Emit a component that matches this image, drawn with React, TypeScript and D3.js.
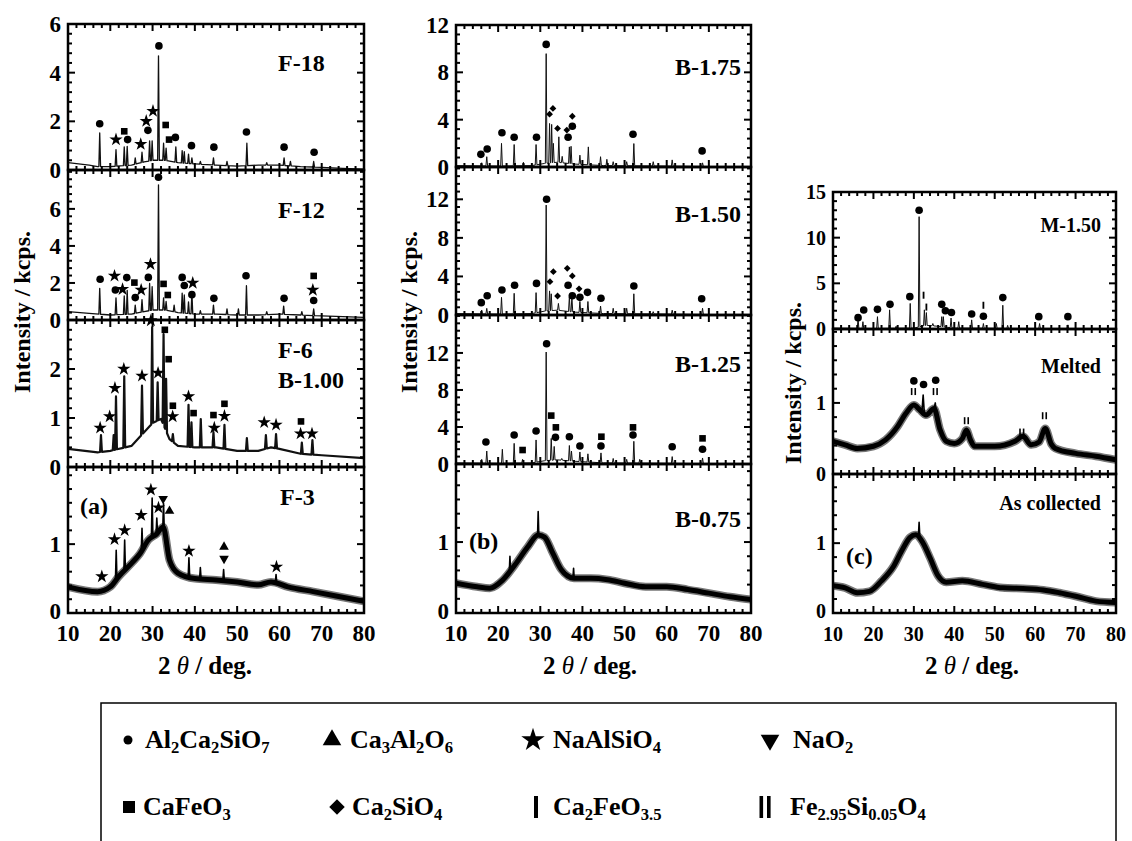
import React from 'react';
import * as d3 from 'd3';

const FONT = '"Liberation Serif", "Times New Roman", Times, serif';

// ---------- axis ticks ----------
const xTicks = [10, 20, 30, 40, 50, 60, 70, 80];
const f18Ticks = [0, 2, 4, 6];
const f12Ticks = [0, 2, 4, 6];
const f6Ticks = [0, 1, 2];
const f3Ticks = [0, 1];
const bTicks = [0, 4, 8, 12];
const b075Ticks = [0, 1];
const m150Ticks = [0, 5, 10, 15];
const meltedTicks = [0, 1];
const asColTicks = [0, 1];

// ---------- F-18 ----------
const f18Bg = [[10,0.3],[15,0.2],[17,0.14],[20,0.14],[25,0.2],[28,0.33],[30,0.4],[33,0.4],[36,0.3],[40,0.25],[45,0.2],[50,0.16],[55,0.2],[60,0.2],[65,0.14],[70,0.11],[75,0.07],[80,0.03]];
const f18Peaks = [[17.5,1.52],[21.35,0.84],[23.3,0.95],[24.0,0.97],[25.9,0.5],[27.5,0.73],[29.3,1.2],[29.9,1.2],[31.4,4.69],[32.6,1.1],[33.2,0.9],[35.5,0.95],[37.0,0.8],[37.5,0.75],[38.5,0.65],[39.3,0.5],[41.3,0.35],[44.4,0.5],[47.6,0.35],[52.3,1.1],[57,0.3],[61.1,0.5],[62.6,0.35],[68.1,0.35]];
const f18Marks = [['c',17.5,1.9],['s',21.35,1.25],['q',23.3,1.59],['c',24.1,1.25],['s',27.2,1.06],['c',28.9,1.63],['s',28.5,2.01],['s',30.1,2.42],['c',31.5,5.1],['q',33.1,1.85],['q',33.9,1.25],['c',35.4,1.34],['c',39.2,1.0],['c',44.5,0.94],['c',52.2,1.56],['c',61.1,0.94],['c',68.2,0.73]];

// ---------- F-12 ----------
const f12Bg = [[10,0.45],[15,0.36],[20,0.27],[25,0.32],[28,0.45],[30,0.54],[33,0.54],[36,0.4],[40,0.32],[45,0.32],[50,0.27],[55,0.27],[60,0.32],[65,0.27],[70,0.22],[75,0.18],[80,0.14]];
const f12Peaks = [[17.5,1.71],[21.35,1.2],[23.3,1.3],[24.0,1.6],[25.9,0.8],[27.5,1.1],[29.3,1.97],[29.9,1.8],[31.4,7.3],[32.6,1.2],[33.2,1.0],[35.1,0.8],[37.0,1.45],[37.5,1.35],[38.5,0.98],[39.3,1.5],[41.3,0.5],[44.4,0.8],[47.6,0.6],[50.3,0.6],[52.2,1.85],[57,0.45],[61.0,0.75],[65.3,0.45],[68.1,0.6]];
const f12Marks = [['c',17.6,2.2],['s',21.0,2.38],['c',21.2,1.62],['c',23.9,2.29],['s',22.9,1.66],['q',25.7,2.02],['c',25.9,1.21],['s',27.3,1.62],['c',29.0,2.3],['s',29.5,3.01],['c',31.4,7.71],['q',32.6,1.95],['q',33.6,1.35],['c',37.0,2.3],['c',37.5,1.86],['s',39.5,2.0],['c',39.3,1.37],['c',44.5,1.17],['c',52.1,2.39],['c',61.1,1.17],['q',68.1,2.38],['s',67.9,1.62],['c',68.1,1.05]];

// ---------- F-6 / B-1.00 ----------
const f6Bg = [[10,0.37],[17,0.3],[20,0.33],[25,0.43],[28,0.71],[30,0.9],[32,0.98],[34,0.57],[36,0.43],[40,0.4],[45,0.4],[50,0.33],[55,0.33],[58,0.4],[60,0.37],[65,0.27],[70,0.24],[80,0.18]];
const f6Peaks = [[17.8,0.65],[20.8,0.65],[21.35,1.44],[23.3,1.85],[27.5,1.66],[29.9,2.85],[31.2,1.73],[32.6,2.71],[33.2,1.8],[34.8,0.67],[38.5,1.27],[39.2,0.91],[41.4,0.98],[44.4,0.71],[47.0,0.86],[52.3,0.59],[56.8,0.65],[59.2,0.67],[65.3,0.5],[67.8,0.55]];
const f6Marks = [['s',17.6,0.8],['s',19.85,1.03],['s',21.1,1.61],['s',23.2,2.0],['s',27.5,1.86],['s',29.6,2.99],['s',31.3,1.92],['q',32.9,2.8],['q',33.8,2.2],['q',34.8,1.25],['s',34.75,1.03],['s',38.5,1.44],['q',39.7,1.1],['q',44.4,1.06],['s',44.6,0.8],['q',47.0,1.29],['s',47.0,1.04],['s',56.4,0.91],['s',59.2,0.86],['q',65.1,0.93],['s',65.0,0.68],['s',67.7,0.68]];

// ---------- F-3 ----------
const f3Bg = [[10,0.38],[17,0.31],[20,0.38],[22,0.53],[25,0.72],[27,0.86],[29,1.06],[31,1.15],[32.5,1.25],[34,0.77],[36,0.58],[40,0.5],[45,0.48],[50,0.45],[55,0.41],[58,0.45],[62,0.38],[68,0.31],[74,0.24],[80,0.17]];
const f3Peaks = [[21.4,0.91],[23.4,1.06],[27.5,1.23],[29.9,1.67],[31.0,1.38],[32.6,1.59],[38.6,0.8],[41.3,0.66],[46.8,0.63],[59.2,0.56]];
const f3Marks = [['s',18.0,0.53],['s',21.0,1.07],['s',23.4,1.2],['s',27.3,1.42],['s',29.6,1.79],['s',31.4,1.53],['v',32.5,1.66],['t',34.0,1.48],['s',38.6,0.9],['t',46.9,0.96],['v',46.9,0.79],['s',59.3,0.67]];

// ---------- B-1.75 ----------
const b175Bg = [[10,0.12],[20,0.08],[28,0.12],[31,0.3],[34,0.4],[38,0.25],[45,0.12],[60,0.08],[80,0.0]];
const b175Peaks = [[16.1,0.36],[17.3,0.87],[20.8,2.0],[23.8,1.9],[26.0,0.4],[29.0,1.9],[31.4,9.58],[32.2,3.68],[32.7,3.6],[33.1,2.0],[34.4,2.55],[35.2,0.9],[36.9,1.7],[37.3,1.75],[39.4,1.0],[41.4,1.7],[44.3,0.87],[45.8,0.65],[47.3,0.45],[50.5,0.45],[52.2,1.98],[56.8,0.45],[61.3,0.6],[68.5,0.35]];
const b175Marks = [['c',15.9,1.07],['c',17.4,1.52],['c',20.9,2.89],['c',23.8,2.52],['c',29.1,2.52],['c',31.4,10.36],['d',32.2,4.46],['d',33.0,4.95],['d',34.1,3.26],['d',36.3,3.12],['c',36.6,2.52],['c',37.6,3.45],['d',37.6,4.29],['c',52.0,2.77],['c',68.4,1.36]];

// ---------- B-1.50 ----------
const b150Bg = [[10,0.15],[20,0.1],[28,0.15],[31,0.4],[34,0.5],[38,0.3],[45,0.15],[60,0.1],[80,0.0]];
const b150Peaks = [[16.1,0.52],[17.3,0.69],[20.8,1.83],[23.8,2.25],[26.0,0.2],[29.0,2.32],[31.4,11.4],[32.2,2.5],[32.6,2.2],[34.3,1.2],[36.9,1.9],[37.5,1.9],[39.4,1.4],[41.3,1.4],[44.3,0.93],[47.3,0.7],[50.5,0.7],[52.2,2.2],[56.8,0.35],[61.3,0.5],[68.5,0.7]];
const b150Marks = [['c',16.0,1.28],['c',17.4,2.0],['c',20.9,2.59],['c',23.9,3.08],['c',29.1,3.28],['c',31.5,12.0],['d',32.3,3.46],['d',33.1,4.49],['d',34.1,1.97],['d',36.4,4.84],['c',36.6,3.08],['d',37.6,4.05],['c',37.6,2.0],['d',39.2,2.72],['c',39.4,1.83],['c',41.2,2.35],['c',44.4,1.73],['c',52.2,3.01],['c',68.3,1.69]];

// ---------- B-1.25 ----------
const b125Bg = [[10,0.12],[20,0.08],[28,0.12],[31,0.35],[34,0.45],[38,0.3],[45,0.12],[60,0.08],[80,0.0]];
const b125Peaks = [[16.1,0.5],[17.3,1.4],[21.0,1.59],[23.8,2.23],[25.8,0.5],[29.0,2.6],[31.4,12.1],[32.6,2.77],[33.3,1.9],[35.1,0.6],[36.9,2.0],[37.4,1.4],[39.4,1.3],[41.3,1.1],[44.4,1.2],[47.3,0.6],[50.5,0.5],[52.2,2.45],[53.6,0.5],[61.3,0.8],[68.5,0.65]];
const b125Marks = [['c',17.1,2.38],['c',23.8,3.14],['q',25.8,1.51],['c',29.0,3.57],['c',31.5,13.0],['q',32.6,5.23],['q',33.7,3.96],['c',33.6,2.88],['c',36.9,2.95],['c',39.4,1.94],['q',44.5,2.95],['c',44.4,1.94],['q',52.0,3.96],['c',52.0,3.14],['c',61.3,1.87],['q',68.5,2.77],['c',68.5,1.59]];

// ---------- B-0.75 ----------
const b075Bg = [[10,0.42],[15,0.37],[18,0.35],[21,0.46],[24,0.68],[27,0.93],[29.5,1.1],[31,1.07],[33,0.84],[35,0.61],[38,0.49],[42,0.49],[46,0.47],[50,0.42],[55,0.37],[60,0.37],[65,0.33],[70,0.28],[75,0.23],[80,0.19]];
const b075Peaks = [[22.8,0.8],[29.5,1.43],[37.9,0.63]];
const b075Marks = [];

// ---------- M-1.50 ----------
const m150Bg = [[10,0.1],[20,0.05],[30,0.1],[33,0.4],[36,0.3],[40,0.1],[80,0]];
const m150Peaks = [[16.2,1.17],[17.4,0.8],[21.0,1.35],[24.0,2.1],[25.6,0.3],[29.1,2.8],[31.3,12.3],[32.6,2.1],[33.1,1.8],[34.7,0.6],[36.9,1.35],[37.3,1.35],[39.2,1.2],[41.1,0.8],[44.3,1.0],[47.2,0.6],[50.4,0.6],[52.0,2.6],[53.2,0.4],[61.1,0.6],[68.1,0.45]];
const m150Marks = [['c',16.2,1.24],['c',17.6,2.08],['c',21.0,2.15],['c',24.1,2.7],['c',29.0,3.54],['c',31.3,13.0],['i',32.4,3.7],['i',33.1,2.4],['c',36.9,2.7],['c',37.8,2.0],['c',39.3,1.8],['c',44.3,1.64],['i',47.2,2.6],['c',47.2,1.4],['c',52.0,3.44],['c',60.9,1.35],['c',68.1,1.35]];

// ---------- Melted ----------
const meltedBg = [[10,0.46],[13,0.41],[16,0.36],[20,0.39],[23,0.48],[26,0.67],[28,0.85],[30,0.97],[31.5,0.9],[33,0.83],[35,0.92],[36.5,0.62],[38,0.46],[40,0.43],[42,0.5],[43,0.62],[44,0.48],[45,0.39],[50,0.39],[55,0.46],[57,0.53],[59,0.41],[61,0.45],[62.5,0.64],[64,0.42],[65,0.36],[70,0.29],[75,0.25],[80,0.2]];
const meltedPeaks = [[32.3,1.11],[35.3,1.0]];
const meltedMarks = [['c',30.0,1.31],['ii',29.9,1.16],['c',32.4,1.26],['c',35.4,1.32],['ii',35.3,1.16],['ii',43.0,0.75],['ii',56.7,0.59],['ii',62.3,0.82]];

// ---------- As collected ----------
const asColBg = [[10,0.39],[13,0.36],[16,0.29],[19,0.31],[22,0.46],[25,0.67],[27,0.89],[29,1.08],[30.5,1.12],[32,1.03],[34,0.79],[36,0.53],[38,0.44],[42,0.46],[47,0.41],[52,0.36],[57,0.35],[62,0.33],[66,0.29],[70,0.24],[75,0.17],[80,0.15]];
const asColPeaks = [[31.3,1.3]];
const asColMarks = [];

// ---------- legend ----------
const legendSymbols = ['c', 't', 's', 'v', 'q', 'd', 'i', 'ii'];
const legendLabels = ['Al2Ca2SiO7', 'Ca3Al2O6', 'NaAlSiO4', 'NaO2', 'CaFeO3', 'Ca2SiO4', 'Ca2FeO3.5', 'Fe2.95Si0.05O4'];

// ---------- helpers ----------
function buildPoints(bg: number[][], peaks: number[][], hw: number): [number, number][] {
  const bgScale = d3.scaleLinear().domain(bg.map(d => d[0])).range(bg.map(d => d[1])).clamp(true);
  const pk = peaks.map(([x, top]) => ({ x, h: Math.max(0, top - bgScale(x)) }));
  const xs = new Set<number>(bg.map(d => d[0]));
  pk.forEach(p => { xs.add(p.x - hw); xs.add(p.x); xs.add(p.x + hw); });
  const sorted = Array.from(xs).filter(x => x >= 10 && x <= 80).sort((a, b) => a - b);
  return sorted.map(x => [x, bgScale(x) + d3.sum(pk, p => Math.max(0, 1 - Math.abs(x - p.x) / hw) * p.h)] as [number, number]);
}

function Marker({ t, x, y }: { t: string; x: number; y: number }) {
  const sym = (type: d3.SymbolType, size: number) => d3.symbol(type, size)() as string;
  switch (t) {
    case 'c': return <circle cx={x} cy={y} r={3.8} fill="#000" />;
    case 'q': return <rect x={x - 3.3} y={y - 3.3} width={6.6} height={6.6} fill="#000" />;
    case 's': return <path transform={`translate(${x},${y})`} d={sym(d3.symbolStar, 55)} fill="#000" />;
    case 'd': return <rect x={x - 2.4} y={y - 2.4} width={4.8} height={4.8} transform={`rotate(45 ${x} ${y})`} fill="#000" />;
    case 't': return <path transform={`translate(${x},${y})`} d={sym(d3.symbolTriangle, 40)} fill="#000" />;
    case 'v': return <path transform={`translate(${x},${y}) rotate(180)`} d={sym(d3.symbolTriangle, 40)} fill="#000" />;
    case 'i': return <rect x={x - 0.9} y={y - 3.5} width={1.8} height={7} fill="#000" />;
    case 'ii': return (
      <g fill="#000">
        <rect x={x - 2.6} y={y - 3.5} width={1.6} height={7} />
        <rect x={x + 1.0} y={y - 3.5} width={1.6} height={7} />
      </g>
    );
    default: return null;
  }
}

function Formula({ s, fs, x, y }: { s: string; fs: number; x: number; y: number }) {
  const parts = s.match(/[A-Za-z]+|[0-9.]+/g) || [];
  let shifted = false;
  const spans = parts.map((p, i) => {
    const isSub = /[0-9]/.test(p[0]);
    let dy = 0;
    if (isSub && !shifted) { dy = fs * 0.2; shifted = true; }
    else if (!isSub && shifted) { dy = -fs * 0.2; shifted = false; }
    return <tspan key={i} dy={dy} fontSize={isSub ? fs * 0.64 : fs}>{p}</tspan>;
  });
  return <text x={x} y={y} fontFamily={FONT} fontWeight="bold" fontSize={fs}>{spans}</text>;
}

type Sub = {
  id: string; titles: string[]; tx: number; anchor: 'start' | 'end'; ty: number[]; tfs: number;
  top: number; bottom: number; max: number; ticks: number[]; minor: number;
  bg: number[][]; peaks: number[][]; marks: any[]; hw: number; lw: number; fuzzy: boolean;
};

type Panel = {
  x0: number; x1: number; label: string; lx: number; ly: number; ylx: number; yly: number; xlx: number;
  tickFs: number; subs: Sub[];
};

const panels: Panel[] = [
  {
    x0: 68, x1: 364, label: '(a)', lx: 80, ly: 514, ylx: 22, yly: 312, xlx: 205, tickFs: 23,
    subs: [
      { id: 'f18', titles: ['F-18'], tx: 278, anchor: 'start', ty: [71], tfs: 24, top: 24, bottom: 170, max: 6, ticks: f18Ticks, minor: 0.4, bg: f18Bg, peaks: f18Peaks, marks: f18Marks, hw: 0.2, lw: 1.3, fuzzy: false },
      { id: 'f12', titles: ['F-12'], tx: 278, anchor: 'start', ty: [218], tfs: 24, top: 170, bottom: 320, max: 8.1, ticks: f12Ticks, minor: 0.4, bg: f12Bg, peaks: f12Peaks, marks: f12Marks, hw: 0.2, lw: 1.3, fuzzy: false },
      { id: 'f6', titles: ['F-6', 'B-1.00'], tx: 278, anchor: 'start', ty: [358, 388], tfs: 24, top: 320, bottom: 467, max: 3.0, ticks: f6Ticks, minor: 0.2, bg: f6Bg, peaks: f6Peaks, marks: f6Marks, hw: 0.22, lw: 2.2, fuzzy: false },
      { id: 'f3', titles: ['F-3'], tx: 280, anchor: 'start', ty: [505], tfs: 24, top: 467, bottom: 613, max: 2.12, ticks: f3Ticks, minor: 0.2, bg: f3Bg, peaks: f3Peaks, marks: f3Marks, hw: 0.18, lw: 5, fuzzy: true },
    ],
  },
  {
    x0: 456, x1: 751, label: '(b)', lx: 469, ly: 549, ylx: 409, yly: 312, xlx: 590, tickFs: 23,
    subs: [
      { id: 'b175', titles: ['B-1.75'], tx: 741, anchor: 'end', ty: [75], tfs: 24, top: 25, bottom: 167, max: 12, ticks: bTicks, minor: 0.8, bg: b175Bg, peaks: b175Peaks, marks: b175Marks, hw: 0.2, lw: 1, fuzzy: false },
      { id: 'b150', titles: ['B-1.50'], tx: 741, anchor: 'end', ty: [222], tfs: 24, top: 167, bottom: 315, max: 15.35, ticks: bTicks, minor: 0.8, bg: b150Bg, peaks: b150Peaks, marks: b150Marks, hw: 0.2, lw: 1, fuzzy: false },
      { id: 'b125', titles: ['B-1.25'], tx: 741, anchor: 'end', ty: [372], tfs: 24, top: 315, bottom: 464, max: 16.1, ticks: bTicks, minor: 0.8, bg: b125Bg, peaks: b125Peaks, marks: b125Marks, hw: 0.2, lw: 1, fuzzy: false },
      { id: 'b075', titles: ['B-0.75'], tx: 741, anchor: 'end', ty: [527], tfs: 24, top: 464, bottom: 613, max: 2.1, ticks: b075Ticks, minor: 0.2, bg: b075Bg, peaks: b075Peaks, marks: b075Marks, hw: 0.15, lw: 5, fuzzy: true },
    ],
  },
  {
    x0: 833, x1: 1116, label: '(c)', lx: 846, ly: 564, ylx: 793, yly: 383, xlx: 972, tickFs: 20,
    subs: [
      { id: 'm150', titles: ['M-1.50'], tx: 1101, anchor: 'end', ty: [232], tfs: 20, top: 192, bottom: 329, max: 15, ticks: m150Ticks, minor: 1, bg: m150Bg, peaks: m150Peaks, marks: m150Marks, hw: 0.2, lw: 1, fuzzy: false },
      { id: 'melted', titles: ['Melted'], tx: 1101, anchor: 'end', ty: [373], tfs: 20, top: 329, bottom: 474, max: 2.04, ticks: meltedTicks, minor: 0.2, bg: meltedBg, peaks: meltedPeaks, marks: meltedMarks, hw: 0.3, lw: 5, fuzzy: true },
      { id: 'ascol', titles: ['As collected'], tx: 1101, anchor: 'end', ty: [510], tfs: 20, top: 474, bottom: 613, max: 1.99, ticks: asColTicks, minor: 0.2, bg: asColBg, peaks: asColPeaks, marks: asColMarks, hw: 0.2, lw: 5, fuzzy: true },
    ],
  },
];

function SubPanel({ p, s, last }: { p: Panel; s: Sub; last: boolean }) {
  const x = d3.scaleLinear().domain([10, 80]).range([p.x0, p.x1]);
  const y = d3.scaleLinear().domain([0, s.max]).range([s.bottom, s.top]);
  const pts = buildPoints(s.bg, s.peaks, s.hw);
  const line = d3.line<[number, number]>().x(d => x(d[0])).y(d => y(d[1])).curve(d3.curveLinear);
  const smooth = d3.line<[number, number]>().x(d => x(d[0])).y(d => y(d[1])).curve(d3.curveMonotoneX);
  const d = line(pts) || '';
  const bgLine = smooth(s.bg as [number, number][]) || '';
  const xMinor = d3.range(10, 80.001, 2);
  const yMinor = d3.range(0, s.max + 1e-6, s.minor);
  const majLen = 7, minLen = 4;
  return (
    <g>
      <defs>
        <clipPath id={`clip-${s.id}`}>
          <rect x={p.x0} y={s.top} width={p.x1 - p.x0} height={s.bottom - s.top} />
        </clipPath>
      </defs>
      <g clipPath={`url(#clip-${s.id})`}>
        {s.fuzzy ? (
          <g>
            <path d={bgLine} fill="none" stroke="#777" strokeWidth={s.lw + 3} strokeLinejoin="round" />
            <path d={bgLine} fill="none" stroke="#000" strokeWidth={s.lw} strokeLinejoin="round" />
            <path d={d} fill="none" stroke="#000" strokeWidth={1.6} strokeLinejoin="round" />
          </g>
        ) : (
          <path d={d} fill="none" stroke="#111" strokeWidth={s.lw} strokeLinejoin="round" />
        )}
      </g>
      {s.marks.map((m, i) => <Marker key={i} t={m[0]} x={x(m[1])} y={y(m[2])} />)}
      <g stroke="#000" strokeWidth={2}>
        {xMinor.map(v => {
          const L = xTicks.includes(Math.round(v)) ? majLen : minLen;
          return (
            <g key={`x${v}`}>
              <line x1={x(v)} x2={x(v)} y1={s.bottom} y2={s.bottom - L} />
              <line x1={x(v)} x2={x(v)} y1={s.top} y2={s.top + L} />
            </g>
          );
        })}
        {yMinor.map(v => {
          const L = s.ticks.some(t => Math.abs(t - v) < 1e-6) ? majLen : minLen;
          return (
            <g key={`y${v}`}>
              <line x1={p.x0} x2={p.x0 + L} y1={y(v)} y2={y(v)} />
              <line x1={p.x1} x2={p.x1 - L} y1={y(v)} y2={y(v)} />
            </g>
          );
        })}
      </g>
      <rect x={p.x0} y={s.top} width={p.x1 - p.x0} height={s.bottom - s.top} fill="none" stroke="#000" strokeWidth={2.5} />
      {s.ticks.map(t => (
        <text key={`yl${t}`} x={p.x0 - 7} y={y(t) + (last && t === 0 ? -2 : 0)} dy="0.35em" textAnchor="end" fontFamily={FONT} fontWeight="bold" fontSize={p.tickFs}>{t}</text>
      ))}
      {s.titles.map((t, i) => (
        <text key={`t${i}`} x={s.tx} y={s.ty[i]} textAnchor={s.anchor} fontFamily={FONT} fontWeight="bold" fontSize={s.tfs}>{t}</text>
      ))}
      {last && xTicks.map(t => (
        <text key={`xl${t}`} x={x(t)} y={s.bottom + 28} textAnchor="middle" fontFamily={FONT} fontWeight="bold" fontSize={p.tickFs}>{t}</text>
      ))}
    </g>
  );
}

function PanelView({ p }: { p: Panel }) {
  return (
    <g>
      {p.subs.map((s, i) => <SubPanel key={s.id} p={p} s={s} last={i === p.subs.length - 1} />)}
      <text x={p.lx} y={p.ly} fontFamily={FONT} fontWeight="bold" fontSize={24}>{p.label}</text>
      <text transform={`translate(${p.ylx},${p.yly}) rotate(-90)`} textAnchor="middle" dy="0.35em" fontFamily={FONT} fontWeight="bold" fontSize={24}>Intensity / kcps.</text>
      <text x={p.xlx} y={674} textAnchor="middle" fontFamily={FONT} fontWeight="bold" fontSize={25}>
        <tspan>2 </tspan><tspan fontStyle="italic" fontWeight="normal">θ</tspan><tspan> / deg.</tspan>
      </text>
    </g>
  );
}

function Legend() {
  const markX = [128, 332, 533, 770, 129, 337, 536, 765];
  const textX = [145, 350, 553, 793, 143, 352, 553, 790];
  const rowY = [740, 807];
  return (
    <g>
      <rect x={101} y={703} width={1015} height={150} fill="none" stroke="#000" strokeWidth={1.5} />
      {legendSymbols.map((sym, i) => {
        const ry = rowY[Math.floor(i / 4)];
        let mk: any;
        if (sym === 'c') mk = <circle cx={markX[i]} cy={ry} r={4.5} fill="#000" />;
        else if (sym === 'q') mk = <rect x={markX[i] - 6} y={ry - 6} width={12} height={12} fill="#000" />;
        else if (sym === 'd') mk = <rect x={markX[i] - 5.5} y={ry - 5.5} width={11} height={11} transform={`rotate(45 ${markX[i]} ${ry})`} fill="#000" />;
        else if (sym === 'i') mk = <rect x={markX[i] - 2} y={ry - 11} width={4} height={22} fill="#000" />;
        else if (sym === 'ii') mk = <g fill="#000"><rect x={markX[i] - 5.5} y={ry - 11} width={3.6} height={22} /><rect x={markX[i] + 2} y={ry - 11} width={3.6} height={22} /></g>;
        else {
          const type = sym === 's' ? d3.symbolStar : d3.symbolTriangle;
          const size = sym === 's' ? 170 : 150;
          const rot = sym === 'v' ? 180 : 0;
          mk = <path transform={`translate(${markX[i]},${ry}) rotate(${rot})`} d={d3.symbol(type, size)() as string} fill="#000" />;
        }
        return (
          <g key={i}>
            {mk}
            <Formula s={legendLabels[i]} fs={26} x={textX[i]} y={ry + 8} />
          </g>
        );
      })}
    </g>
  );
}

export default function App() {
  return (
    <svg width={1132} height={841} style={{ position: 'absolute', left: 0, top: 0, background: '#fff' }}>
      <rect x={0} y={0} width={1132} height={841} fill="#fff" />
      {panels.map((p, i) => <PanelView key={i} p={p} />)}
      <Legend />
    </svg>
  );
}
